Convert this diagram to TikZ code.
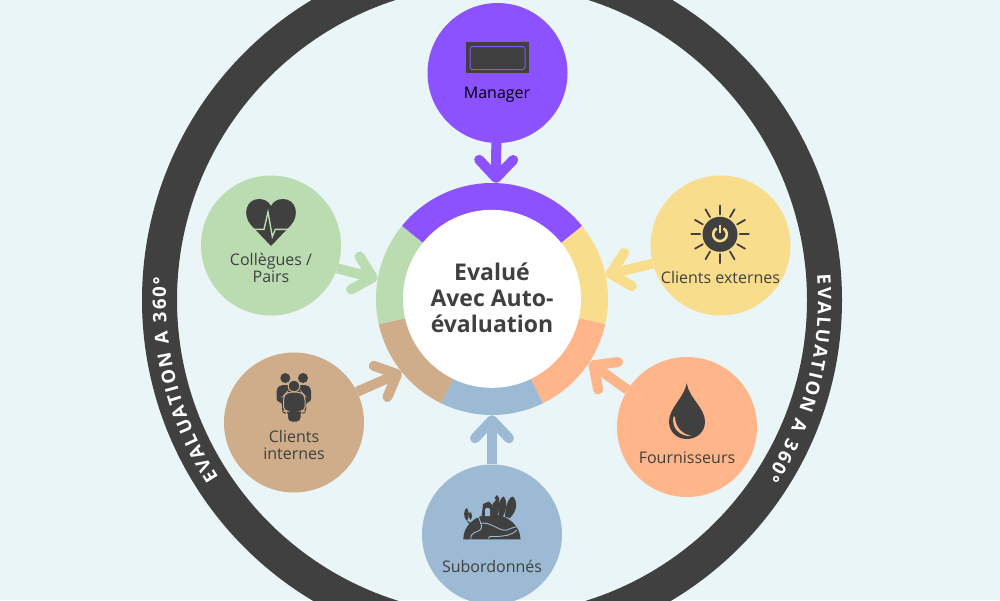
\documentclass[tikz,border=0pt]{standalone}
\usepackage{fontspec}
\setmainfont{Open Sans}
\usetikzlibrary{arrows.meta,decorations.text}

\definecolor{bgcol}{HTML}{EAF5F7}
\definecolor{darkcol}{HTML}{404040}
\definecolor{mgrcol}{HTML}{8C52FF}
\definecolor{peercol}{HTML}{BBDBB1}
\definecolor{extcol}{HTML}{F8DE8C}
\definecolor{supcol}{HTML}{FFB58A}
\definecolor{subcol}{HTML}{9DBAD5}
\definecolor{intcol}{HTML}{CFAC8A}

\tikzset{
  satellite/.style={circle,minimum size=140pt,inner sep=0pt},
  satlabel/.style={inner sep=0.75pt,align=center,text=darkcol,font=\fontsize{16}{17}\selectfont},
  feed/.style={line width=10pt,-{Straight Barb[round,length=18pt,width=34pt]}},
  ringtext/.style={decorate,decoration={text along path,text align={fit to path},text color=white,
    text={|\fontsize{18.5}{18.5}\selectfont\bfseries|EVALUATION A 360°}}}
}

\begin{document}
\begin{tikzpicture}[x=1pt,y=1pt,yscale=-1,xscale=1]

\useasboundingbox (0,0) rectangle (1000,600);
\clip (0,0) rectangle (1000,600);
\fill [bgcol] (0,0) rectangle (1000,600);

%Outer ring
\draw [line width=35pt,darkcol] (492,300) circle [radius=332.5];

%Nodes
\node (hub) [circle,minimum size=232pt,inner sep=0pt] at (492,299) {};
\node (manager) [satellite,fill=mgrcol] at (497.5,73) {};
\node (peers) [satellite,fill=peercol] at (271,245.5) {};
\node (external) [satellite,fill=extcol] at (720.5,245.5) {};
\node (suppliers) [satellite,fill=supcol] at (687,427) {};
\node (juniors) [satellite,fill=subcol] at (492,534.5) {};
\node (internal) [satellite,fill=intcol] at (294,422.5) {};

%Arrows
\draw [feed,mgrcol] (manager.-91) -- (hub.88);
\draw [feed,peercol] (peers.-19) -- (hub.170.5);
\draw [feed,extcol] (external.195.3) -- (hub.12.5);
\draw [feed,supcol] (suppliers.148) -- (hub.-33);
\draw [feed,subcol] (juniors.north) -- (hub.south);
\draw [feed,intcol] (internal.26) -- (hub.-141.4);

%Ring sectors
\fill [mgrcol] (492,299) -- +(-141:116) arc [start angle=-141,end angle=-39,radius=116] -- cycle;
\fill [extcol] (492,299) -- +(-39:116) arc [start angle=-39,end angle=12.5,radius=116] -- cycle;
\fill [supcol] (492,299) -- +(12.5:116) arc [start angle=12.5,end angle=64,radius=116] -- cycle;
\fill [subcol] (492,299) -- +(64:116) arc [start angle=64,end angle=116,radius=116] -- cycle;
\fill [intcol] (492,299) -- +(116:116) arc [start angle=116,end angle=167.5,radius=116] -- cycle;
\fill [peercol] (492,299) -- +(167.5:116) arc [start angle=167.5,end angle=219,radius=116] -- cycle;

% Text Node
\node (evaluee) [circle,fill=white,minimum size=178pt,inner sep=0pt] at (492,298.8) {};
\node (evalueetext) [inner sep=0.75pt,align=center,text=darkcol,font=\fontsize{23}{26}\selectfont\bfseries] at (492,297.5) {Evalué\\Avec Auto-\\évaluation};

% Text Node
\node (managertext) [satlabel,text=black] at (497,95) {Manager};
% Text Node
\node (peerstext) [satlabel] at (271,267.5) {Collègues /\\Pairs};
% Text Node
\node (externaltext) [satlabel] at (720.5,277) {Clients externes};
% Text Node
\node (supplierstext) [satlabel] at (687,458) {Fournisseurs};
% Text Node
\node (juniorstext) [satlabel] at (492,566) {Subordonnés};
% Text Node
\node (internaltext) [satlabel] at (294,445) {Clients\\internes};

%Text on the ring
\path [ringtext] (492,300) ++(147:326) arc [start angle=147,end angle=184,radius=326];
\path [ringtext] (492,300) ++(-4.4:326) arc [start angle=-4.4,end angle=33,radius=326];

%Manager icon
\fill [darkcol] (466,42) rectangle (529,73.3);
\draw [mgrcol,line width=1pt] (472,46.5) -- (523,46.5) -- (525,48.5) -- (525,67.5) -- (523,69.5) -- (472,69.5) -- (470,67.5) -- (470,48.5) -- cycle;

%Heart icon
\fill [darkcol] (271,246) -- (251,225) .. controls (242,215) and (246,199) .. (259,199) .. controls (265,199) and (269,202) .. (271,206) .. controls (273,202) and (277,199) .. (283,199) .. controls (296,199) and (300,215) .. (291,225) -- cycle;
\draw [peercol,line width=1.4pt] (250,229.3) -- (264,229.3) -- (268,212) -- (272.3,236.7) -- (275.3,229.3) -- (292,229.3);

%Sun icon
\fill [darkcol] (720,234.3) circle [radius=17.5];
\draw [extcol,line width=2.6pt] (720,234.3) ++(-60:6.8) arc [start angle=-60,end angle=240,radius=6.8];
\draw [darkcol,line width=5pt] (720,224) -- (720,233);
\draw [extcol,line width=2.4pt] (720,224.5) -- (720,233);
\draw [darkcol,line width=1.8pt,line cap=round] (720,205.5) -- (720,214.5);
\draw [darkcol,line width=1.8pt,line cap=round] (734.5,209.3) -- (730,217.1);
\draw [darkcol,line width=1.8pt,line cap=round] (745,219.9) -- (737.2,224.4);
\draw [darkcol,line width=1.8pt,line cap=round] (748.8,234.3) -- (739.8,234.3);
\draw [darkcol,line width=1.8pt,line cap=round] (745,248.7) -- (737.2,244.2);
\draw [darkcol,line width=1.8pt,line cap=round] (734.5,259.3) -- (730,251.5);
\draw [darkcol,line width=1.8pt,line cap=round] (720,263.1) -- (720,254.1);
\draw [darkcol,line width=1.8pt,line cap=round] (705.5,259.3) -- (710,251.5);
\draw [darkcol,line width=1.8pt,line cap=round] (695,248.7) -- (702.8,244.2);
\draw [darkcol,line width=1.8pt,line cap=round] (691.2,234.3) -- (700.2,234.3);
\draw [darkcol,line width=1.8pt,line cap=round] (695,219.9) -- (702.8,224.4);
\draw [darkcol,line width=1.8pt,line cap=round] (705.5,209.3) -- (710,217.1);

%Drop icon
\fill [darkcol] (686.7,383.3) .. controls (684,398) and (669,408) .. (669,421.5) .. controls (669,432) and (677,439) .. (686.7,439) .. controls (697,439) and (705,432) .. (705,421.5) .. controls (705,408) and (689,398) .. (686.7,383.3) -- cycle;
\fill [supcol] (673.5,416.5) .. controls (671,428) and (680,437) .. (692,436) .. controls (683,434.5) and (675,428) .. (675,416.5) -- cycle;

%People icon
\fill [darkcol] (285.3,378) circle [radius=5];
\fill [darkcol] (303,378) circle [radius=5];
\fill [darkcol,rounded corners=3pt] (281,385) -- (307,385) -- (311,388) -- (311,402) -- (306,402) -- (306,413.5) -- (282,413.5) -- (282,402) -- (276.7,402) -- (276.7,388) -- cycle;
\draw [fill=darkcol,draw=intcol,line width=1pt,rounded corners=4pt] (287,392.2) -- (301.5,392.2) -- (305,396) -- (305,411) -- (301,411) -- (301,422) -- (287.5,422) -- (287.5,411) -- (283.5,411) -- (283.5,396) -- cycle;
\draw [fill=darkcol,draw=intcol,line width=1pt] (294,386) circle [radius=5.8];

%Globe icon
\fill [darkcol] (463.3,539.3) .. controls (463,527) and (474,514.5) .. (491.7,514.5) .. controls (509,514.5) and (520.5,527) .. (520.5,539.3) -- cycle;
\draw [subcol,line width=0.9pt] (478.3,516.7) .. controls (481,523) and (483,528) .. (480,530) .. controls (476,533) and (470,532) .. (471,539.3);
\draw [subcol,line width=0.9pt] (480,523.3) .. controls (487,522) and (491,525) .. (495,526.7) .. controls (500,529) and (503,531) .. (507,530) .. controls (510,529) and (513,527) .. (516.7,526.7);
\draw [subcol,line width=0.9pt] (488.3,538.3) .. controls (490,535) and (493,537) .. (497,536.5) .. controls (503,536) and (511,536) .. (517,530);
\fill [darkcol] (481.7,516) -- (483,504) -- (489,501.5) -- (492.5,505) -- (493.5,516) -- cycle;
\fill [subcol] (485,516) -- (485,510) .. controls (485,507) and (490,507) .. (490,510) -- (490,516) -- cycle;
\fill [darkcol] (493,516) -- (492.5,504) -- (496,500) -- (494.5,498) -- (497,495) -- (499,498) .. controls (500,505) and (498,510) .. (497.5,516) -- cycle;
\fill [darkcol] (499.5,517) .. controls (496,508) and (500,497) .. (504,496.5) .. controls (507,500) and (507,510) .. (502.5,517) -- cycle;
\fill [darkcol] (505,517) .. controls (505,508) and (508,497) .. (513,496.5) .. controls (518,502) and (517,511) .. (510,518) -- cycle;
\fill [darkcol] (467,521) .. controls (462.5,517) and (464,510) .. (466.5,508) .. controls (469,510) and (470,516) .. (467,521) -- cycle;
\fill [darkcol] (470.5,520) .. controls (468,517) and (469,513) .. (470,512) .. controls (472,513) and (473,517) .. (470.5,520) -- cycle;
\draw [darkcol,line width=1pt] (467.5,521) -- (473,527);

\end{tikzpicture}
\end{document}
